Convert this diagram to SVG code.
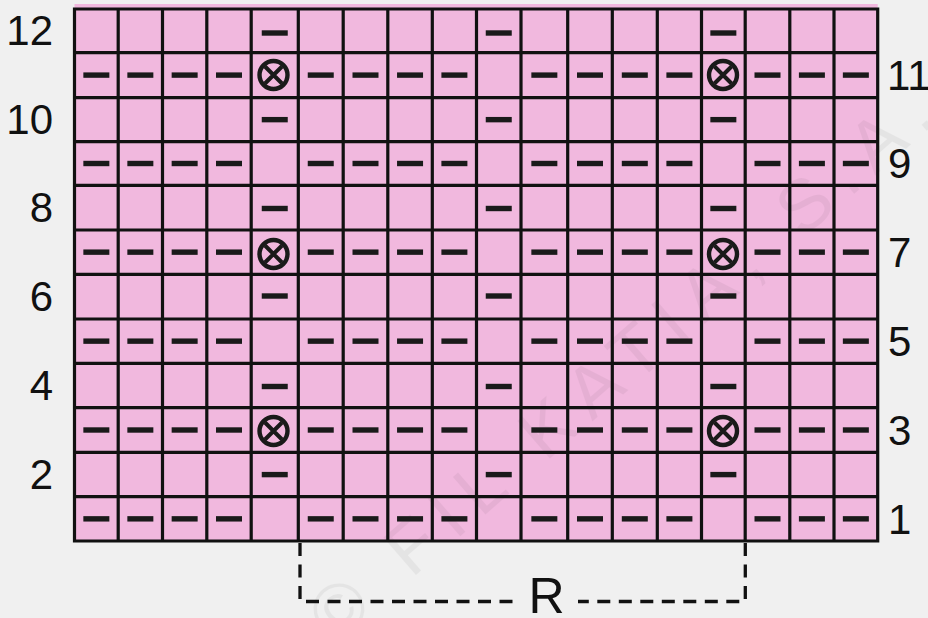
<svg xmlns="http://www.w3.org/2000/svg" xmlns:xlink="http://www.w3.org/1999/xlink" width="928" height="618" viewBox="0 0 928 618">
  <style>
    .grid{fill:none;stroke:#111;stroke-width:3.2;stroke-linecap:square}
    .num{font-family:"Liberation Sans",Arial,sans-serif;font-size:42px;fill:#111}
    .rep{fill:none;stroke:#111;stroke-width:3.3;stroke-dasharray:13 8.5}
    .wm{font-family:"Liberation Sans",Arial,sans-serif;font-size:72px;fill:#000;opacity:0.045;letter-spacing:14px}
  </style>
  <defs>
    <rect id="d" x="-13" y="-2.7" width="26" height="5.4" fill="#1a1a1a"/>
    <g id="x" fill="none" stroke="#1a1a1a">
      <circle r="14" stroke-width="4.4"/>
      <path d="M-8.5,-8.5 L8.5,8.5 M8.5,-8.5 L-8.5,8.5" stroke-width="4"/>
    </g>
    <g id="oddrow">
      <use href="#d" x="96.35"/><use href="#d" x="140.35"/><use href="#d" x="184.65"/><use href="#d" x="229"/>
      <use href="#d" x="320.75"/><use href="#d" x="365.5"/><use href="#d" x="410.05"/><use href="#d" x="454.4"/>
      <use href="#d" x="544.35"/><use href="#d" x="590"/><use href="#d" x="634.8"/><use href="#d" x="679.4"/>
      <use href="#d" x="767.5"/><use href="#d" x="811.9"/><use href="#d" x="855.85"/>
    </g>
    <g id="evenrow">
      <use href="#d" x="274.75"/><use href="#d" x="498.75"/><use href="#d" x="723.35"/>
    </g>
    <g id="crossrow">
      <use href="#x" x="273.5"/><use href="#x" x="723"/>
    </g>
  </defs>
  <rect width="928" height="618" fill="#f0f0f0"/>

  <g id="chart">
    <rect x="74.5" y="4" width="803.2" height="537" fill="#f1b8de"/>
    <text class="wm" x="625" y="385" text-anchor="middle" transform="rotate(-41 625 360)">© FIL KATIA, S.A.</text>
    <path class="grid" d="M74.5,9 H877.7 M74.5,52.6 H877.7 M74.5,97.6 H877.7 M74.5,141.7 H877.7 M74.5,185.3 H877.7 M74.5,230 H877.7 M74.5,274.3 H877.7 M74.5,319 H877.7 M74.5,363.3 H877.7 M74.5,407.7 H877.7 M74.5,452.3 H877.7 M74.5,496.7 H877.7 M74.5,541 H877.7
      M74.5,9 V541 M118.2,9 V541 M162.5,9 V541 M206.8,9 V541 M251.2,9 V541 M298.3,9 V541 M343.2,9 V541 M387.8,9 V541 M432.3,9 V541 M476.5,9 V541 M521,9 V541 M567.7,9 V541 M612.3,9 V541 M657.3,9 V541 M701.5,9 V541 M745.2,9 V541 M789.8,9 V541 M834,9 V541 M877.7,9 V541"/>
  </g>

  <g id="symbols">
    <use href="#evenrow" y="33"/>
    <use href="#oddrow" y="75.1"/><use href="#crossrow" y="75"/>
    <use href="#evenrow" y="119.65"/>
    <use href="#oddrow" y="163.5"/>
    <use href="#evenrow" y="208.5"/>
    <use href="#oddrow" y="252.15"/><use href="#crossrow" y="254"/>
    <use href="#evenrow" y="296"/>
    <use href="#oddrow" y="341.15"/>
    <use href="#evenrow" y="386.5"/>
    <use href="#oddrow" y="430"/><use href="#crossrow" y="431"/>
    <use href="#evenrow" y="474.6"/>
    <use href="#oddrow" y="518.85"/>
  </g>

  <g id="row-labels-left">
    <text class="num" x="53" y="45" text-anchor="end">12</text>
    <text class="num" x="53" y="134" text-anchor="end">10</text>
    <text class="num" x="53" y="222" text-anchor="end">8</text>
    <text class="num" x="53" y="311" text-anchor="end">6</text>
    <text class="num" x="53" y="400" text-anchor="end">4</text>
    <text class="num" x="53" y="489" text-anchor="end">2</text>
  </g>
  <g id="row-labels-right">
    <text class="num" x="887" y="89.5" letter-spacing="-7">1<tspan dx="7">1</tspan></text>
    <text class="num" x="888" y="177.5">9</text>
    <text class="num" x="888" y="266.5">7</text>
    <text class="num" x="888" y="355.5">5</text>
    <text class="num" x="888" y="444.5">3</text>
    <text class="num" x="888" y="533.5">1</text>
  </g>

  <g id="repeat">
    <path class="rep" d="M300,543 V601.5 H516"/>
    <path class="rep" d="M745.3,543 V601.5 H578"/>
    <text x="546.5" y="613" text-anchor="middle" style="font-family:'Liberation Sans',Arial,sans-serif;font-size:50px;fill:#111">R</text>
  </g>
</svg>
